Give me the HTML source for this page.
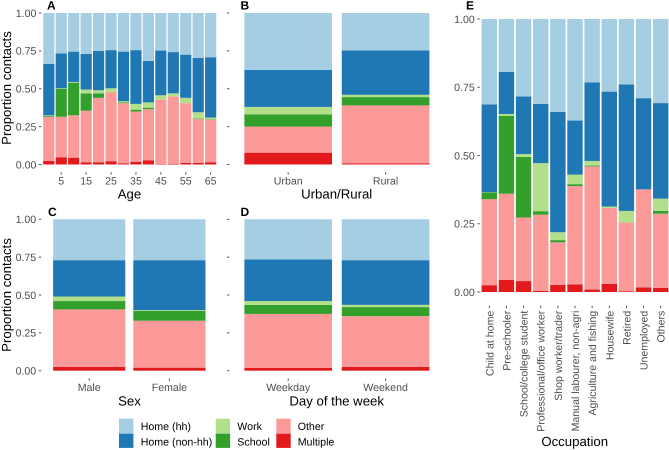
<!DOCTYPE html>
<html lang="en">
<head>
<meta charset="utf-8">
<title>Proportion of contacts by location</title>
<style>
html,body{margin:0;padding:0;background:#fff;}
svg{display:block;font-family:"Liberation Sans",Arial,sans-serif;text-rendering:geometricPrecision;}
.tick-label{font-size:10.6px;fill:#4d4d4d;}
.axis-title{font-size:13.2px;fill:#000;}
.tag{font-size:12px;font-weight:bold;fill:#000;}
.legend-label{font-size:10.65px;fill:#000;}
</style>
</head>
<body>
<svg id="chart" xmlns="http://www.w3.org/2000/svg" width="669" height="450" viewBox="0 0 669 450">
  <rect x="0" y="0" width="669" height="450" fill="#fff"/>

  <text class="tag" x="47" y="9.5">A</text>
  <text class="tag" x="240.5" y="9.5">B</text>
  <text class="tag" x="48" y="216">C</text>
  <text class="tag" x="240.5" y="216">D</text>
  <text class="tag" x="466" y="9.5">E</text>

  <text class="axis-title" text-anchor="middle" transform="translate(11,88) rotate(-90)">Proportion contacts</text>
  <text class="axis-title" text-anchor="middle" transform="translate(11,295) rotate(-90)">Proportion contacts</text>

  <text class="axis-title" text-anchor="middle" x="129.5" y="198.5">Age</text>
  <text class="axis-title" text-anchor="middle" x="336.7" y="198.5">Urban/Rural</text>
  <text class="axis-title" text-anchor="middle" x="129.5" y="405.5">Sex</text>
  <text class="axis-title" text-anchor="middle" x="336.7" y="405.5">Day of the week</text>
  <text class="axis-title" text-anchor="middle" x="574.7" y="446">Occupation</text>

  <g>
    <g>
      <rect x="119" y="418.7" width="14.4" height="14.4" fill="#a6cee3"/>
      <text class="legend-label" x="140.7" y="430">Home (hh)</text>
    </g>
    <g>
      <rect x="119" y="433.5" width="14.4" height="14.4" fill="#1f78b4"/>
      <text class="legend-label" x="140.7" y="445.3">Home (non-hh)</text>
    </g>
    <g>
      <rect x="215.7" y="418.7" width="14.4" height="14.4" fill="#b2df8a"/>
      <text class="legend-label" x="237.3" y="430">Work</text>
    </g>
    <g>
      <rect x="215.7" y="433.5" width="14.4" height="14.4" fill="#33a02c"/>
      <text class="legend-label" x="237.3" y="445.3">School</text>
    </g>
    <g>
      <rect x="276.3" y="418.7" width="14.4" height="14.4" fill="#fb9a99"/>
      <text class="legend-label" x="297.7" y="430">Other</text>
    </g>
    <g>
      <rect x="276.3" y="433.5" width="14.4" height="14.4" fill="#e31a1c"/>
      <text class="legend-label" x="297.7" y="445.3">Multiple</text>
    </g>
  </g>
</svg>

<script>
// Shared axis tick labels
const yTickValues = [0, 0.25, 0.5, 0.75, 1];
const yTickLabels = ['0.00', '0.25', '0.50', '0.75', '1.00'];

// Panel A: age
const ageCategories = ['0', '5', '10', '15', '20', '25', '30', '35', '40', '45', '50', '55', '60', '65'];
const ageTickLabels = ['', '5', '', '15', '', '25', '', '35', '', '45', '', '55', '', '65'];
const ageMultiple = [.023, .048, .045, .015, .015, .022, .008, .018, .028, .003, .005, .01, .01, .015];
const ageOther = [.292, .267, .28, .34, .425, .456, .397, .332, .337, .425, .445, .395, .29, .28];
const ageSchool = [.007, .185, .215, .115, .03, 0, .005, .012, .01, 0, 0, 0, .003, .003];
const ageWork = [.003, .003, .005, .025, .02, .025, .008, .038, .035, .029, .02, .035, .042, .012];
const ageHomeNonHh = [.34, .23, .2, .235, .26, .252, .327, .355, .273, .295, .272, .285, .358, .398];
const ageHomeHh = [.335, .267, .255, .27, .25, .245, .255, .245, .317, .248, .258, .275, .297, .292];

// Panel B: urban / rural
const areaCategories = ['Urban', 'Rural'];
const areaMultiple = [.078, .008];
const areaOther = [.172, .382];
const areaSchool = [.08, .055];
const areaWork = [.05, .015];
const areaHomeNonHh = [.245, .293];
const areaHomeHh = [.375, .247];

// Panel C: sex
const sexCategories = ['Male', 'Female'];
const sexMultiple = [.025, .02];
const sexOther = [.38, .31];
const sexSchool = [.055, .065];
const sexWork = [.03, .005];
const sexHomeNonHh = [.24, .33];
const sexHomeHh = [.27, .27];

// Panel D: day of the week
const dayCategories = ['Weekday', 'Weekend'];
const dayMultiple = [.018, .025];
const dayOther = [.357, .335];
const daySchool = [.06, .06];
const dayWork = [.025, .015];
const dayHomeNonHh = [.275, .295];
const dayHomeHh = [.265, .27];

// Panel E: occupation
const occupationCategories = ['Child at home', 'Pre-schooler', 'School/college student', 'Professional/office worker', 'Shop worker/trader', 'Manual labourer, non-agri', 'Agriculture and fishing', 'Housewife', 'Retired', 'Unemployed', 'Others'];
const occupationMultiple = [.025, .044, .04, .004, .026, .028, .009, .03, .003, .017, .015];
const occupationOther = [.315, .316, .233, .279, .156, .36, .451, .278, .252, .359, .272];
const occupationSchool = [.025, .285, .222, .013, .008, .007, .003, 0, 0, 0, .01];
const occupationWork = [.001, .007, .01, .176, .029, .035, .017, .005, .042, 0, .045];
const occupationHomeNonHh = [.321, .154, .211, .217, .441, .198, .288, .421, .463, .334, .35];
const occupationHomeHh = [.313, .194, .284, .311, .34, .372, .232, .266, .24, .29, .308];

const SVG_NS = 'http://www.w3.org/2000/svg';
const chart = document.getElementById('chart');

function makeYScale(y0, y1) {
  return function (v) { return y0 + (y1 - y0) * v; };
}
function makeXScale(firstCenter, step) {
  return function (i) { return firstCenter + step * i; };
}
function svgEl(tag, attrs, parent) {
  const el = document.createElementNS(SVG_NS, tag);
  for (const k in attrs) el.setAttribute(k, attrs[k]);
  parent.appendChild(el);
  return el;
}

function drawPanel(key, cfg, categories, tickLabels, stacks) {
  const y = makeYScale(cfg.y0, cfg.y1);
  const x = makeXScale(cfg.firstCenter, cfg.step);
  const barWidth = cfg.step * 0.9;

  const group = svgEl('g', {}, chart);
  
  

  // y axis
  yTickValues.forEach(function (v, i) {
    const tick = svgEl('rect', { x: cfg.yTickX, y: y(v) - 0.5, width: 2.4, height: 1, fill: '#555' }, group);
    
    
    if (cfg.showYLabels) {
      const label = svgEl('text', { x: cfg.yTickX - 2.6, y: y(v) + 3.8, 'text-anchor': 'end', class: 'tick-label' }, group);
      label.textContent = yTickLabels[i];
      
      
    }
  });

  // stacked bars
  categories.forEach(function (cat, i) {
    let cum = 0;
    stacks.forEach(function (s) {
      const v = s.values[i];
      const bar = svgEl('rect', {
        x: x(i) - barWidth / 2,
        y: y(cum + v),
        width: barWidth,
        height: Math.max(0, y(cum) - y(cum + v)),
        fill: s.color
      }, group);
      
      
      cum += v;
    });

    // x axis
    const lab = tickLabels[i];
    if (lab !== '') {
      const tick = svgEl('rect', { x: x(i) - 0.5, y: cfg.tickY, width: 1, height: 2.4, fill: '#555' }, group);
      
      
      let label;
      if (cfg.rotate) {
        label = svgEl('text', {
          transform: 'translate(' + (x(i) + 4) + ',' + (cfg.tickY + 5) + ') rotate(-90)',
          'text-anchor': 'end',
          class: 'tick-label'
        }, group);
      } else {
        label = svgEl('text', { x: x(i), y: cfg.labelY, 'text-anchor': 'middle', class: 'tick-label' }, group);
      }
      label.textContent = lab;
      
      
    }
  });
}

function stackOf(multiple, other, school, work, nonHh, hh) {
  return [
    { name: 'multiple', color: '#e31a1c', values: multiple },
    { name: 'other', color: '#fb9a99', values: other },
    { name: 'school', color: '#33a02c', values: school },
    { name: 'work', color: '#b2df8a', values: work },
    { name: 'home-non-hh', color: '#1f78b4', values: nonHh },
    { name: 'home-hh', color: '#a6cee3', values: hh }
  ];
}

drawPanel('age',
  { y0: 164.5, y1: 13, firstCenter: 48.8, step: 12.45, yTickX: 39, showYLabels: true, tickY: 172.2, labelY: 184.5 },
  ageCategories, ageTickLabels,
  stackOf(ageMultiple, ageOther, ageSchool, ageWork, ageHomeNonHh, ageHomeHh));

drawPanel('urban-rural',
  { y0: 164.5, y1: 13, firstCenter: 288.2, step: 97.4, yTickX: 227, showYLabels: false, tickY: 172.2, labelY: 184.5 },
  areaCategories, areaCategories,
  stackOf(areaMultiple, areaOther, areaSchool, areaWork, areaHomeNonHh, areaHomeHh));

drawPanel('sex',
  { y0: 370.7, y1: 219.3, firstCenter: 89.2, step: 80.2, yTickX: 38.8, showYLabels: true, tickY: 378.4, labelY: 391 },
  sexCategories, sexCategories,
  stackOf(sexMultiple, sexOther, sexSchool, sexWork, sexHomeNonHh, sexHomeHh));

drawPanel('day-of-week',
  { y0: 370.7, y1: 219.3, firstCenter: 288.2, step: 97.4, yTickX: 227, showYLabels: false, tickY: 378.4, labelY: 391 },
  dayCategories, dayCategories,
  stackOf(dayMultiple, dayOther, daySchool, dayWork, dayHomeNonHh, dayHomeHh));

drawPanel('occupation',
  { y0: 292, y1: 19, firstCenter: 489.3, step: 17.14, yTickX: 477.4, showYLabels: true, tickY: 305.7, rotate: true },
  occupationCategories, occupationCategories,
  stackOf(occupationMultiple, occupationOther, occupationSchool, occupationWork, occupationHomeNonHh, occupationHomeHh));
</script>
</body>
</html>
